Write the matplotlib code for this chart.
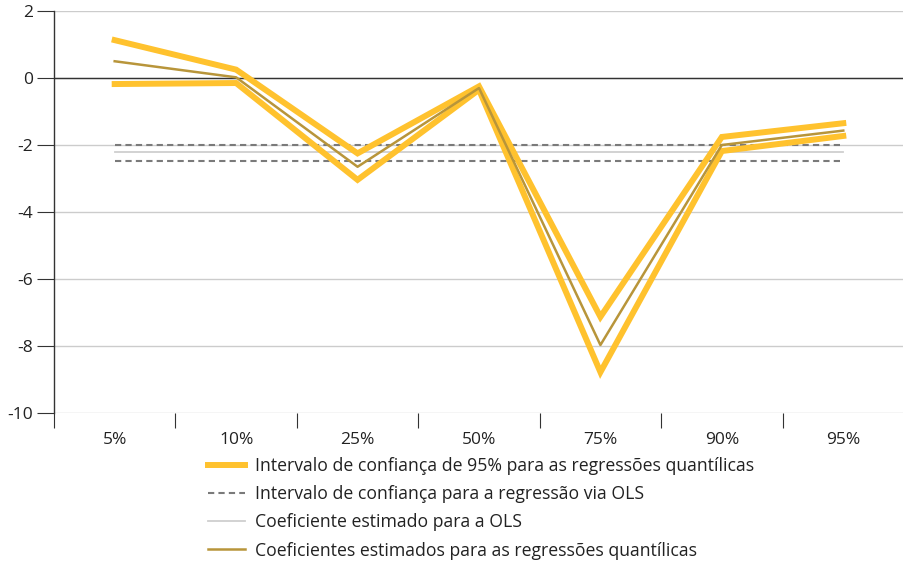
import matplotlib
matplotlib.use("Agg")
import matplotlib.pyplot as plt
import numpy as np

plt.rcParams['font.family'] = ['Open Sans', 'DejaVu Sans']
plt.rcParams['axes.unicode_minus'] = False

quantis = ['5%', '10%', '25%', '50%', '75%', '90%', '95%']
ic_sup = [1.13, 0.25, -2.25, -0.25, -7.13, -1.76, -1.35]
ic_inf = [-0.18, -0.15, -3.04, -0.35, -8.78, -2.18, -1.73]
coef_q = [0.50, 0.02, -2.65, -0.30, -7.97, -2.00, -1.57]
ols_sup = [-2.0] * 7
ols_inf = [-2.47] * 7
ols_coef = [-2.22] * 7

x = np.arange(len(quantis))

fig = plt.figure(figsize=(9.04, 5.64), dpi=100)
ax = fig.add_axes([0.0597, 0.2677, 0.9403, 0.7128])

amarelo = '#FFC22E'
marrom = '#B8953A'

ax.plot(x, ols_sup, color='#7a7a7a', lw=1.5, ls=(0, (3, 2)), zorder=3)
ax.plot(x, ols_inf, color='#7a7a7a', lw=1.5, ls=(0, (3, 2)), zorder=3)
ax.plot(x, ols_coef, color='#cfcfcf', lw=1.3, zorder=3)
ax.plot(x, ic_sup, color=amarelo, lw=4.3, zorder=4, solid_joinstyle='miter')
ax.plot(x, ic_inf, color=amarelo, lw=4.3, zorder=4, solid_joinstyle='miter')
ax.plot(x, coef_q, color=marrom, lw=1.8, zorder=5)

ax.axhline(0, color='#333333', lw=1, zorder=2)

ax.set_xlim(-0.5, 6.5)
ax.set_ylim(-10, 2)
ax.set_yticks(np.arange(-10, 3, 2))
ax.grid(axis='y', color='#cccccc', lw=1)
ax.set_axisbelow(True)

ax.set_xticks(np.arange(-0.5, 7, 1))
ax.set_xticklabels([])
ax.set_xticks(x, minor=True)
ax.set_xticklabels(quantis, minor=True)
ax.tick_params(axis='x', which='major', length=11, width=0.8, color='#333333', direction='out')
ax.tick_params(axis='x', which='minor', length=0, pad=14, labelsize=12.5, labelcolor='#222222')
ax.tick_params(axis='y', length=12, width=0.8, color='#333333', pad=3, labelsize=12.5, labelcolor='#222222')

for s in ['top', 'right', 'bottom']:
    ax.spines[s].set_visible(False)
ax.spines['left'].set_color('#333333')
ax.spines['left'].set_linewidth(1)

h1 = plt.Line2D([], [], color=amarelo, lw=4.3)
h2 = plt.Line2D([], [], color='#7a7a7a', lw=1.5, ls=(0, (3, 2)))
h3 = plt.Line2D([], [], color='#cfcfcf', lw=1.3)
h4 = plt.Line2D([], [], color=marrom, lw=1.8)
fig.legend([h1, h2, h3, h4],
           ['Intervalo de confiança de 95% para as regressões quantílicas',
            'Intervalo de confiança para a regressão via OLS',
            'Coeficiente estimado para a OLS',
            'Coeficientes estimados para as regressões quantílicas'],
           loc='upper left', bbox_to_anchor=(0.23, 0.19), frameon=False,
           fontsize=12.7, handlelength=2.1, handletextpad=0.55,
           labelspacing=0.58, borderaxespad=0, borderpad=0, labelcolor='#222222')

fig.savefig('out.png', dpi=100)
